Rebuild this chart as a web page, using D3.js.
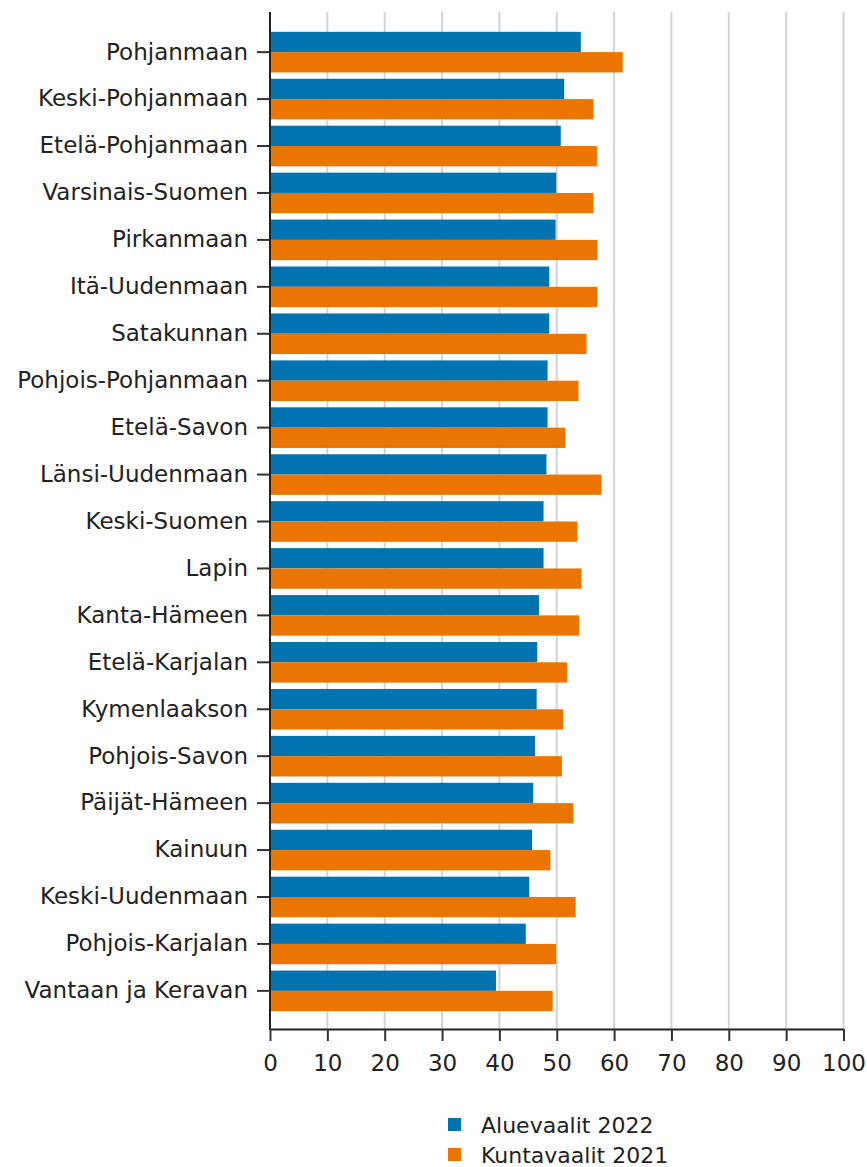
<!DOCTYPE html>
<html>
<head>
<meta charset="utf-8">
<script src="https://cdn.jsdelivr.net/npm/d3@7"></script>
<style>
  html, body { margin: 0; padding: 0; background: #fff; }
  svg { display: block; }
  text { font-family: "DejaVu Sans", Verdana, sans-serif; fill: #222; }
</style>
</head>
<body>
<svg id="chart" width="867" height="1167"></svg>
<script>
const categories = [
  "Pohjanmaan", "Keski-Pohjanmaan", "Etelä-Pohjanmaan", "Varsinais-Suomen",
  "Pirkanmaan", "Itä-Uudenmaan", "Satakunnan", "Pohjois-Pohjanmaan",
  "Etelä-Savon", "Länsi-Uudenmaan", "Keski-Suomen", "Lapin",
  "Kanta-Hämeen", "Etelä-Karjalan", "Kymenlaakson", "Pohjois-Savon",
  "Päijät-Hämeen", "Kainuun", "Keski-Uudenmaan", "Pohjois-Karjalan",
  "Vantaan ja Keravan"
];
const seriesNames = ["Aluevaalit 2022", "Kuntavaalit 2021"];
const aluevaalit2022 = [54.2, 51.3, 50.7, 49.9, 49.8, 48.7, 48.7, 48.4, 48.4, 48.2, 47.7,
  47.7, 46.9, 46.6, 46.5, 46.2, 45.9, 45.7, 45.2, 44.6, 39.4];
const kuntavaalit2021 = [61.5, 56.4, 57.0, 56.4, 57.1, 57.1, 55.2, 53.8, 51.5, 57.8, 53.6,
  54.3, 53.9, 51.8, 51.1, 50.9, 52.9, 48.9, 53.3, 49.9, 49.3];
const xTicks = [0, 10, 20, 30, 40, 50, 60, 70, 80, 90, 100];
const colors = ["#0073b0", "#ea7500"];

const seriesValues = [aluevaalit2022, kuntavaalit2021];
const svg = d3.select("#chart");

const x = d3.scaleLinear().domain([0, 100]).range([270, 843.5]);
const y = d3.scaleBand().domain(categories).range([14, 1029])
  .paddingInner(0.135).paddingOuter(0.38);
const ySub = d3.scaleBand().domain(seriesNames).range([0, y.bandwidth()]).padding(0);

const axisTop = 12, axisBottom = 1029;

// grid lines
svg.append("g").selectAll("line").data(xTicks.filter(d => d > 0)).join("line")
  .attr("x1", d => x(d)).attr("x2", d => x(d))
  .attr("y1", axisTop).attr("y2", axisBottom)
  .attr("stroke", "#d4d4d4").attr("stroke-width", 2);

// bars
const groups = svg.append("g").selectAll("g").data(categories).join("g")
  .attr("transform", d => `translate(0,${y(d)})`);
groups.selectAll("rect")
  .data((c, i) => seriesNames.map((s, j) => ({ s, v: seriesValues[j][i], j })))
  .join("rect")
  .attr("x", x(0))
  .attr("y", d => ySub(d.s))
  .attr("width", d => x(d.v) - x(0))
  .attr("height", ySub.bandwidth())
  .attr("fill", d => colors[d.j]);

// y axis
const yAxis = svg.append("g").attr("transform", `translate(${x(0)},0)`)
  .call(d3.axisLeft(y).tickSize(13).tickPadding(9));
yAxis.select(".domain").remove();
yAxis.selectAll(".tick line").attr("stroke", "#333").attr("stroke-width", 2);
yAxis.selectAll(".tick text").style("font-size", "23px")
  .style("font-family", "'DejaVu Sans', Verdana, sans-serif").attr("fill", "#222");
svg.append("line").attr("x1", x(0)).attr("x2", x(0))
  .attr("y1", axisTop).attr("y2", axisBottom + 1)
  .attr("stroke", "#222").attr("stroke-width", 2);

// x axis
const xAxis = svg.append("g").attr("transform", `translate(0,${axisBottom})`)
  .call(d3.axisBottom(x).tickValues(xTicks).tickFormat(d3.format("d")).tickSize(12).tickPadding(14).tickSizeOuter(0));
xAxis.select(".domain").attr("stroke", "#222").attr("stroke-width", 2);
xAxis.selectAll(".tick line").attr("stroke", "#333").attr("stroke-width", 2);
xAxis.selectAll(".tick text").style("font-size", "23px")
  .style("font-family", "'DejaVu Sans', Verdana, sans-serif").attr("fill", "#222");

// legend
const legend = svg.append("g").attr("transform", "translate(448,1118)");
const li = legend.selectAll("g").data(seriesNames).join("g")
  .attr("transform", (d, i) => `translate(0,${i * 30})`);
li.append("rect").attr("width", 13).attr("height", 13)
  .attr("fill", (d, i) => colors[i]);
li.append("text").attr("x", 33).attr("y", 15).text(d => d)
  .style("font-size", "22px");
</script>
</body>
</html>
